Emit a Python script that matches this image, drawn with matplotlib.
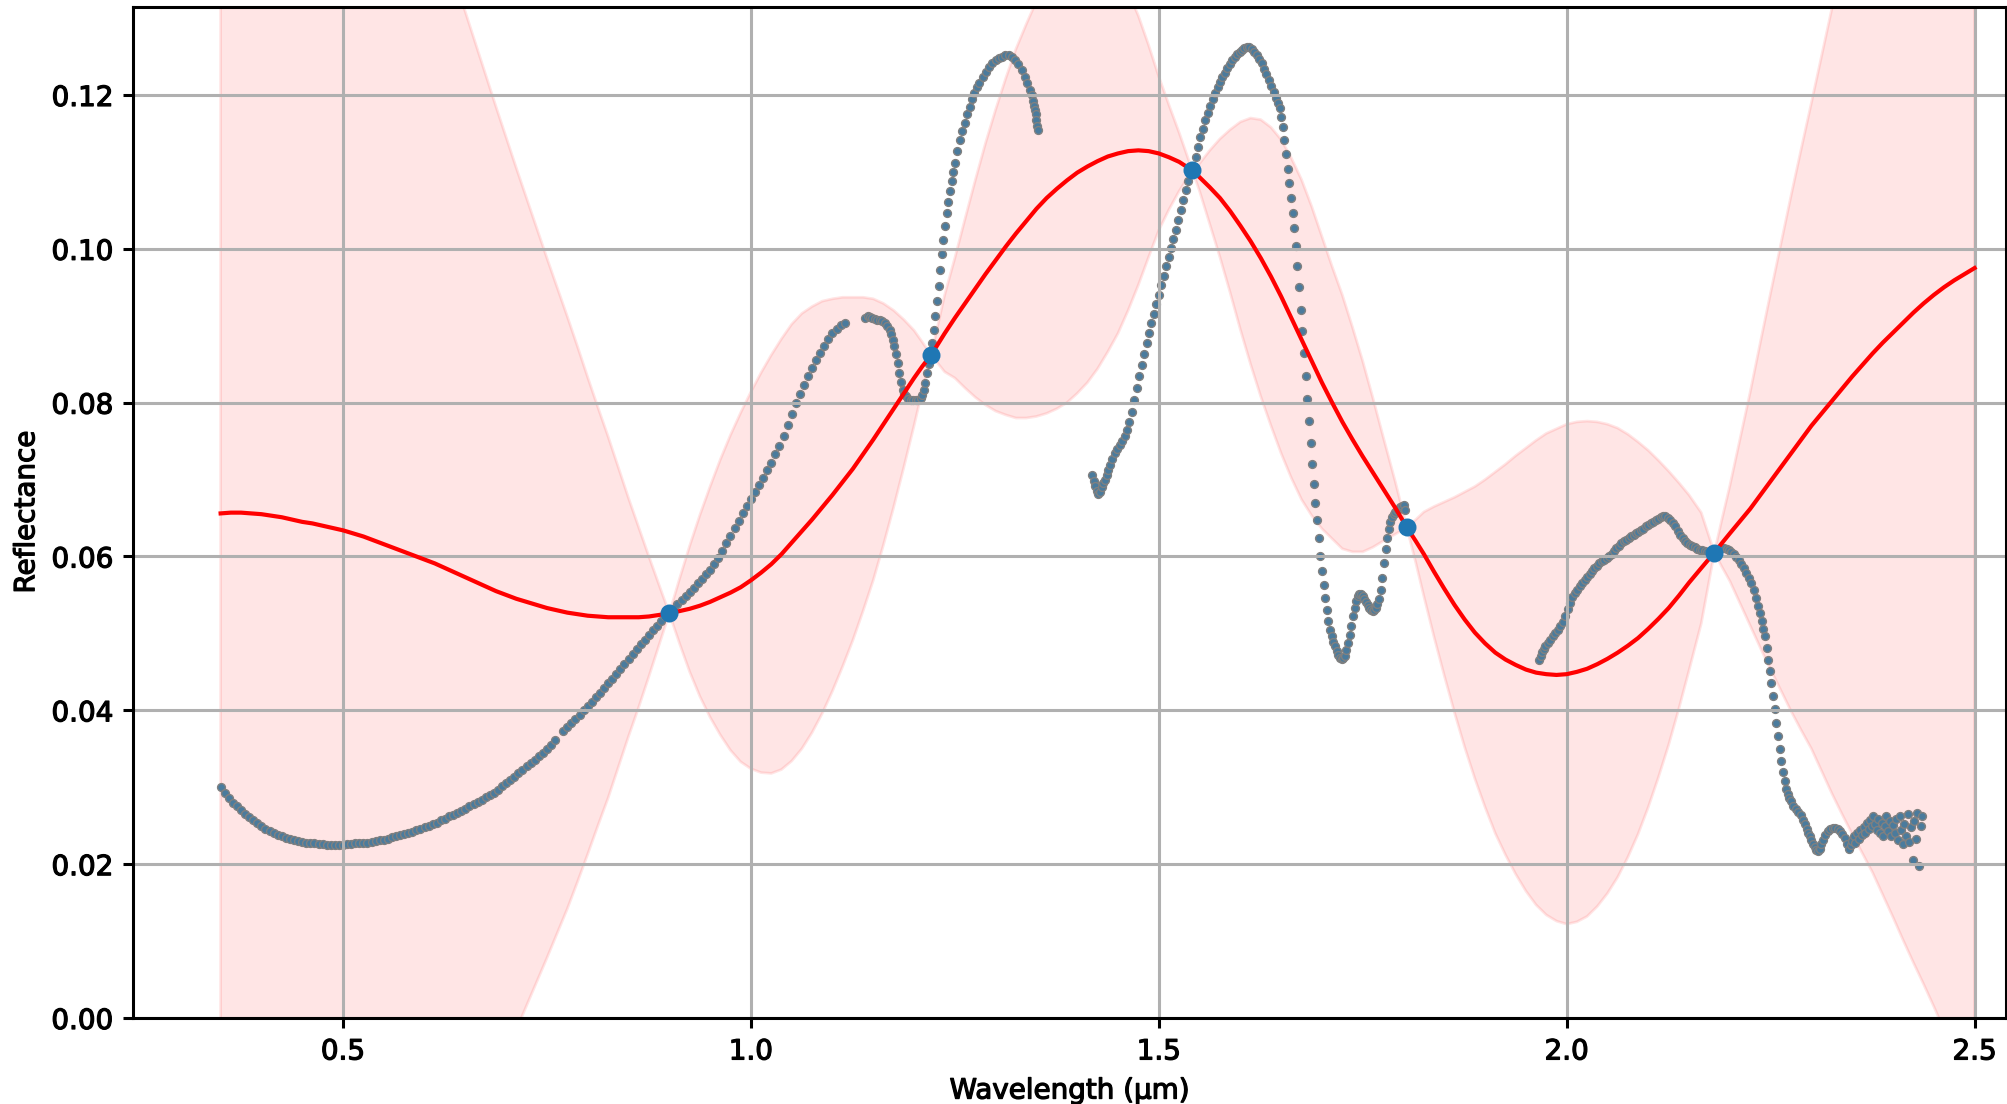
import numpy as np
import matplotlib.pyplot as plt
import matplotlib.patheffects as pe

# points used to train the GP (picked on the spectrum)
train_x = [0.900, 1.221, 1.541, 1.804, 2.181]
train_y = [0.0526, 0.0862, 0.1102, 0.0638, 0.0605]

# GP prediction: mean curve and half width of the band
fit_x = [0.3500, 0.3625, 0.3750, 0.3875, 0.4000, 0.4125, 0.4250, 0.4375, 0.4500, 0.4625,
         0.4750, 0.4875, 0.5000, 0.5125, 0.5250, 0.5375, 0.5500, 0.5625, 0.5750, 0.5875,
         0.6000, 0.6125, 0.6250, 0.6375, 0.6500, 0.6625, 0.6750, 0.6875, 0.7000, 0.7125,
         0.7250, 0.7375, 0.7500, 0.7625, 0.7750, 0.7875, 0.8000, 0.8125, 0.8250, 0.8375,
         0.8500, 0.8625, 0.8750, 0.8875, 0.9000, 0.9125, 0.9250, 0.9375, 0.9500, 0.9625,
         0.9750, 0.9875, 1.0000, 1.0125, 1.0250, 1.0375, 1.0500, 1.0625, 1.0750, 1.0875,
         1.1000, 1.1125, 1.1250, 1.1375, 1.1500, 1.1625, 1.1750, 1.1875, 1.2000, 1.2100,
         1.2210, 1.2375, 1.2500, 1.2625, 1.2750, 1.2875, 1.3000, 1.3125, 1.3250, 1.3375,
         1.3500, 1.3625, 1.3750, 1.3875, 1.4000, 1.4125, 1.4250, 1.4375, 1.4500, 1.4625,
         1.4750, 1.4875, 1.5000, 1.5125, 1.5250, 1.5410, 1.5500, 1.5625, 1.5750, 1.5875,
         1.6000, 1.6125, 1.6250, 1.6375, 1.6500, 1.6625, 1.6750, 1.6875, 1.7000, 1.7125,
         1.7250, 1.7375, 1.7500, 1.7625, 1.7750, 1.7900, 1.8040, 1.8150, 1.8250, 1.8375,
         1.8500, 1.8625, 1.8750, 1.8875, 1.9000, 1.9125, 1.9250, 1.9375, 1.9500, 1.9625,
         1.9750, 1.9875, 2.0000, 2.0125, 2.0250, 2.0375, 2.0500, 2.0625, 2.0750, 2.0875,
         2.1000, 2.1125, 2.1250, 2.1375, 2.1500, 2.1650, 2.1810, 2.1900, 2.2000, 2.2125,
         2.2250, 2.2375, 2.2500, 2.2625, 2.2750, 2.2875, 2.3000, 2.3125, 2.3250, 2.3375,
         2.3500, 2.3625, 2.3750, 2.3875, 2.4000, 2.4125, 2.4250, 2.4375, 2.4500, 2.4625,
         2.4750, 2.4875, 2.5000]
fit_mean = [0.0656, 0.0657, 0.0657, 0.0656, 0.0655, 0.0653, 0.0651, 0.0648, 0.0645, 0.0643,
            0.0640, 0.0637, 0.0634, 0.0630, 0.0626, 0.0621, 0.0616, 0.0611, 0.0606, 0.0601,
            0.0596, 0.0591, 0.0585, 0.0579, 0.0573, 0.0567, 0.0561, 0.0555, 0.0550, 0.0545,
            0.0541, 0.0537, 0.0533, 0.0530, 0.0527, 0.0525, 0.0523, 0.0522, 0.0521, 0.0521,
            0.0521, 0.0521, 0.0522, 0.0524, 0.0526, 0.0529, 0.0532, 0.0536, 0.0541, 0.0547,
            0.0553, 0.0560, 0.0569, 0.0579, 0.0590, 0.0603, 0.0618, 0.0633, 0.0648, 0.0664,
            0.0680, 0.0697, 0.0714, 0.0733, 0.0752, 0.0772, 0.0792, 0.0812, 0.0832, 0.0847,
            0.0862, 0.0890, 0.0910, 0.0929, 0.0948, 0.0967, 0.0985, 0.1003, 0.1020, 0.1036,
            0.1052, 0.1066, 0.1078, 0.1089, 0.1099, 0.1107, 0.1114, 0.1120, 0.1124, 0.1127,
            0.1128, 0.1127, 0.1124, 0.1119, 0.1113, 0.1102, 0.1093, 0.1080, 0.1066, 0.1049,
            0.1030, 0.1010, 0.0988, 0.0964, 0.0938, 0.0910, 0.0882, 0.0854, 0.0826, 0.0800,
            0.0775, 0.0752, 0.0730, 0.0709, 0.0688, 0.0663, 0.0638, 0.0620, 0.0603, 0.0580,
            0.0558, 0.0537, 0.0518, 0.0501, 0.0487, 0.0475, 0.0466, 0.0459, 0.0453, 0.0449,
            0.0447, 0.0446, 0.0447, 0.0450, 0.0454, 0.0460, 0.0467, 0.0475, 0.0484, 0.0494,
            0.0506, 0.0519, 0.0533, 0.0549, 0.0566, 0.0585, 0.0605, 0.0617, 0.0630, 0.0646,
            0.0662, 0.0680, 0.0698, 0.0716, 0.0734, 0.0752, 0.0770, 0.0786, 0.0802, 0.0818,
            0.0834, 0.0849, 0.0864, 0.0878, 0.0891, 0.0904, 0.0917, 0.0929, 0.0940, 0.0950,
            0.0959, 0.0967, 0.0975]
fit_band = [0.1570, 0.1535, 0.1500, 0.1465, 0.1430, 0.1395, 0.1360, 0.1325, 0.1290, 0.1255,
            0.1220, 0.1185, 0.1150, 0.1115, 0.1080, 0.1045, 0.1010, 0.0975, 0.0940, 0.0905,
            0.0870, 0.0835, 0.0800, 0.0768, 0.0735, 0.0700, 0.0665, 0.0630, 0.0595, 0.0560,
            0.0525, 0.0490, 0.0455, 0.0420, 0.0385, 0.0348, 0.0310, 0.0272, 0.0235, 0.0195,
            0.0155, 0.0117, 0.0078, 0.0039, 0.0000, 0.0042, 0.0082, 0.0118, 0.0150, 0.0179,
            0.0205, 0.0227, 0.0245, 0.0260, 0.0272, 0.0280, 0.0284, 0.0283, 0.0277, 0.0268,
            0.0255, 0.0240, 0.0223, 0.0204, 0.0183, 0.0157, 0.0128, 0.0096, 0.0062, 0.0032,
            0.0000, 0.0050, 0.0078, 0.0110, 0.0141, 0.0170, 0.0196, 0.0219, 0.0240, 0.0256,
            0.0270, 0.0280, 0.0286, 0.0289, 0.0287, 0.0281, 0.0270, 0.0254, 0.0234, 0.0207,
            0.0175, 0.0138, 0.0100, 0.0068, 0.0038, 0.0000, 0.0018, 0.0048, 0.0077, 0.0106,
            0.0135, 0.0160, 0.0180, 0.0194, 0.0204, 0.0208, 0.0208, 0.0201, 0.0190, 0.0177,
            0.0165, 0.0146, 0.0124, 0.0097, 0.0068, 0.0034, 0.0000, 0.0028, 0.0055, 0.0085,
            0.0113, 0.0140, 0.0166, 0.0190, 0.0213, 0.0235, 0.0254, 0.0272, 0.0288, 0.0302,
            0.0313, 0.0320, 0.0325, 0.0325, 0.0322, 0.0315, 0.0305, 0.0292, 0.0275, 0.0255,
            0.0232, 0.0206, 0.0178, 0.0147, 0.0114, 0.0072, 0.0000, 0.0030, 0.0062, 0.0107,
            0.0152, 0.0199, 0.0245, 0.0290, 0.0335, 0.0378, 0.0420, 0.0465, 0.0510, 0.0553,
            0.0595, 0.0635, 0.0675, 0.0718, 0.0760, 0.0803, 0.0845, 0.0885, 0.0925, 0.0965,
            0.1005, 0.1045, 0.1085]

# measured spectrum, one list per segment (bad bands removed)
seg1_x = [0.350, 0.355, 0.360, 0.365, 0.370, 0.375, 0.380, 0.385, 0.390, 0.395,
          0.400, 0.405, 0.410, 0.415, 0.420, 0.425, 0.430, 0.435, 0.440, 0.445,
          0.450, 0.455, 0.460, 0.465, 0.470, 0.475, 0.480, 0.485, 0.490, 0.495,
          0.500, 0.505, 0.510, 0.515, 0.520, 0.525, 0.530, 0.535, 0.540, 0.545,
          0.550, 0.555, 0.560, 0.565, 0.570, 0.575, 0.580, 0.585, 0.590, 0.595,
          0.600, 0.605, 0.610, 0.615, 0.620, 0.625, 0.630, 0.635, 0.640, 0.645,
          0.650, 0.655, 0.660, 0.665, 0.670, 0.675, 0.680, 0.685, 0.690, 0.695,
          0.700, 0.705, 0.710, 0.715, 0.720, 0.725, 0.730, 0.735, 0.740, 0.745,
          0.750, 0.755, 0.760,
          0.770, 0.775, 0.780, 0.785, 0.790, 0.795,
          0.800, 0.805, 0.810, 0.815, 0.820, 0.825, 0.830, 0.835, 0.840, 0.845,
          0.850, 0.855, 0.860, 0.865, 0.870, 0.875, 0.880, 0.885, 0.890, 0.895,
          0.900, 0.905, 0.910, 0.915, 0.920, 0.925, 0.930, 0.935, 0.940, 0.945,
          0.950, 0.955, 0.960, 0.965, 0.970, 0.975, 0.980, 0.985, 0.990, 0.995,
          1.000, 1.005, 1.010, 1.015, 1.020, 1.025, 1.030, 1.035, 1.040, 1.045,
          1.050, 1.055, 1.060, 1.065, 1.070, 1.075, 1.080, 1.085, 1.090, 1.095,
          1.100, 1.105, 1.110, 1.115]
seg1_y = [0.0300, 0.0293, 0.0286, 0.0280, 0.0275, 0.0270, 0.0265, 0.0261, 0.0257, 0.0253,
          0.0249, 0.0246, 0.0243, 0.0241, 0.0238, 0.0236, 0.0234, 0.0233, 0.0232, 0.0230,
          0.0229, 0.0228, 0.0227, 0.0227, 0.0226, 0.0226, 0.0225, 0.0225, 0.0225, 0.0225,
          0.0225, 0.0226, 0.0226, 0.0227, 0.0227, 0.0228, 0.0228, 0.0229, 0.0230, 0.0231,
          0.0232, 0.0233, 0.0235, 0.0237, 0.0238, 0.0239, 0.0241, 0.0242, 0.0244, 0.0246,
          0.0248, 0.0250, 0.0252, 0.0254, 0.0257, 0.0259, 0.0262, 0.0264, 0.0267, 0.0269,
          0.0272, 0.0275, 0.0278, 0.0281, 0.0284, 0.0287, 0.0290, 0.0293, 0.0297, 0.0301,
          0.0305, 0.0309, 0.0313, 0.0318, 0.0322, 0.0327, 0.0331, 0.0336, 0.0340, 0.0345,
          0.0350, 0.0355, 0.0361,
          0.0373, 0.0378, 0.0384, 0.0389, 0.0394, 0.0400,
          0.0405, 0.0411, 0.0417, 0.0423, 0.0429, 0.0435, 0.0441, 0.0447, 0.0454, 0.0460,
          0.0467, 0.0473, 0.0480, 0.0486, 0.0492, 0.0498, 0.0504, 0.0510, 0.0516, 0.0522,
          0.0527, 0.0532, 0.0538, 0.0543, 0.0549, 0.0554, 0.0559, 0.0565, 0.0571, 0.0577,
          0.0583, 0.0590, 0.0598, 0.0607, 0.0617, 0.0627, 0.0637, 0.0646, 0.0656, 0.0665,
          0.0675, 0.0684, 0.0693, 0.0702, 0.0712, 0.0722, 0.0733, 0.0744, 0.0757, 0.0771,
          0.0785, 0.0799, 0.0811, 0.0823, 0.0834, 0.0845, 0.0855, 0.0865, 0.0874, 0.0883,
          0.0890, 0.0896, 0.0901, 0.0904]

seg2_x = [1.140, 1.143, 1.146, 1.149, 1.152, 1.155, 1.158, 1.161, 1.164, 1.167,
          1.170, 1.172, 1.174, 1.176, 1.178, 1.180, 1.182, 1.184, 1.186, 1.188,
          1.190, 1.193, 1.196, 1.199, 1.202, 1.205, 1.208, 1.210, 1.212, 1.214,
          1.216, 1.218, 1.220, 1.222, 1.224, 1.226, 1.228, 1.230, 1.232, 1.234,
          1.236, 1.238, 1.240, 1.242, 1.244, 1.246, 1.248, 1.250, 1.253, 1.256,
          1.259, 1.262, 1.265, 1.268, 1.271, 1.274, 1.277, 1.280, 1.284, 1.288,
          1.292, 1.296, 1.300, 1.304, 1.308, 1.312, 1.316, 1.320, 1.324, 1.328,
          1.332, 1.336, 1.339, 1.342, 1.344, 1.346, 1.347, 1.348, 1.349, 1.350,
          1.351, 1.352]
seg2_y = [0.0910, 0.0912, 0.0911, 0.0910, 0.0909, 0.0908, 0.0907, 0.0906, 0.0904, 0.0900,
          0.0894, 0.0889, 0.0882, 0.0873, 0.0863, 0.0851, 0.0839, 0.0827, 0.0817, 0.0811,
          0.0808, 0.0805, 0.0804, 0.0803, 0.0803, 0.0804, 0.0806, 0.0810, 0.0816, 0.0826,
          0.0838, 0.0850, 0.0862, 0.0878, 0.0895, 0.0913, 0.0932, 0.0952, 0.0973, 0.0993,
          0.1012, 0.1030, 0.1046, 0.1061, 0.1075, 0.1088, 0.1100, 0.1112, 0.1127, 0.1141,
          0.1153, 0.1164, 0.1175, 0.1185, 0.1195, 0.1203, 0.1210, 0.1216, 0.1223, 0.1230,
          0.1236, 0.1241, 0.1245, 0.1248, 0.1250, 0.1252, 0.1252, 0.1250, 0.1246, 0.1240,
          0.1233, 0.1224, 0.1216, 0.1207, 0.1200, 0.1192, 0.1186, 0.1180, 0.1175, 0.1168,
          0.1160, 0.1155]

seg3_x = [1.418, 1.420, 1.422, 1.424, 1.426, 1.428, 1.430, 1.432, 1.434, 1.436,
          1.438, 1.440, 1.443, 1.446, 1.449, 1.452, 1.455, 1.458, 1.461, 1.464,
          1.467, 1.470, 1.473, 1.476, 1.479, 1.482, 1.485, 1.488, 1.491, 1.494,
          1.497, 1.500, 1.503, 1.506, 1.509, 1.512, 1.515, 1.518, 1.521, 1.524,
          1.527, 1.530, 1.533, 1.536, 1.539, 1.542, 1.545, 1.548, 1.551, 1.554,
          1.557, 1.560, 1.563, 1.566, 1.569, 1.572, 1.575, 1.578, 1.581, 1.584,
          1.587, 1.590, 1.593, 1.596, 1.599, 1.602, 1.605, 1.608, 1.611, 1.614,
          1.617, 1.620, 1.623, 1.626, 1.629, 1.632, 1.635, 1.638, 1.641, 1.644,
          1.646, 1.648, 1.650, 1.652, 1.654, 1.656, 1.658, 1.660, 1.662, 1.664,
          1.666, 1.668, 1.670, 1.672, 1.674, 1.676, 1.678, 1.680, 1.682, 1.684,
          1.686, 1.688, 1.690, 1.692, 1.694, 1.696, 1.698, 1.700, 1.702, 1.704,
          1.706, 1.708, 1.710, 1.712, 1.714, 1.716, 1.718, 1.720, 1.722, 1.724,
          1.726, 1.728, 1.730, 1.732, 1.734, 1.736, 1.738, 1.740, 1.742, 1.744,
          1.746, 1.748, 1.750, 1.752, 1.754, 1.756, 1.758, 1.760, 1.762, 1.764,
          1.766, 1.768, 1.770, 1.772, 1.774, 1.776, 1.778, 1.780, 1.782, 1.784,
          1.786, 1.788, 1.790, 1.792, 1.794, 1.796, 1.798, 1.800, 1.802]
seg3_y = [0.0706, 0.0698, 0.0691, 0.0685, 0.0681, 0.0684, 0.0690, 0.0695, 0.0700, 0.0706,
          0.0713, 0.0719, 0.0727, 0.0734, 0.0740, 0.0745, 0.0750, 0.0756, 0.0764, 0.0775,
          0.0788, 0.0803, 0.0819, 0.0834, 0.0849, 0.0863, 0.0877, 0.0890, 0.0903, 0.0915,
          0.0928, 0.0940, 0.0953, 0.0965, 0.0977, 0.0989, 0.1001, 0.1013, 0.1025, 0.1038,
          0.1051, 0.1064, 0.1077, 0.1088, 0.1099, 0.1108, 0.1120, 0.1133, 0.1145, 0.1156,
          0.1167, 0.1177, 0.1186, 0.1195, 0.1203, 0.1210, 0.1217, 0.1223, 0.1229, 0.1235,
          0.1240, 0.1245, 0.1249, 0.1253, 0.1256, 0.1259, 0.1261, 0.1262, 0.1262, 0.1260,
          0.1256, 0.1252, 0.1247, 0.1241, 0.1234, 0.1227, 0.1220, 0.1212, 0.1204, 0.1196,
          0.1190, 0.1183, 0.1172, 0.1158, 0.1141, 0.1123, 0.1104, 0.1085, 0.1066, 0.1046,
          0.1027, 0.1004, 0.0978, 0.0950, 0.0921, 0.0893, 0.0864, 0.0835, 0.0805, 0.0776,
          0.0748, 0.0720, 0.0694, 0.0670, 0.0647, 0.0624, 0.0601, 0.0581, 0.0563, 0.0546,
          0.0530, 0.0516, 0.0505, 0.0496, 0.0489, 0.0483, 0.0477, 0.0472, 0.0468, 0.0467,
          0.0468, 0.0471, 0.0478, 0.0488, 0.0498, 0.0510, 0.0522, 0.0533, 0.0542, 0.0548,
          0.0551, 0.0551, 0.0549, 0.0545, 0.0541, 0.0537, 0.0533, 0.0530, 0.0529, 0.0530,
          0.0533, 0.0538, 0.0545, 0.0557, 0.0572, 0.0591, 0.0610, 0.0624, 0.0636, 0.0645,
          0.0651, 0.0655, 0.0658, 0.0660, 0.0662, 0.0664, 0.0666, 0.0667, 0.0660]

seg4_x = [1.966, 1.968, 1.970, 1.972, 1.974, 1.977, 1.980, 1.983, 1.986, 1.989,
          1.992, 1.995, 1.998, 2.001, 2.004, 2.007, 2.010, 2.013, 2.016, 2.019,
          2.022, 2.025, 2.028, 2.031, 2.034, 2.037, 2.040, 2.043, 2.046, 2.049,
          2.052, 2.055, 2.058, 2.061, 2.064, 2.067, 2.070, 2.073, 2.076, 2.079,
          2.082, 2.085, 2.088, 2.091, 2.094, 2.097, 2.100, 2.103, 2.106, 2.109,
          2.112, 2.115, 2.118, 2.121, 2.124, 2.127, 2.130, 2.133, 2.136, 2.139,
          2.142, 2.145, 2.148, 2.151, 2.154, 2.157, 2.160, 2.163, 2.166, 2.169,
          2.172, 2.175, 2.178, 2.181, 2.184, 2.187, 2.190, 2.193, 2.196, 2.199,
          2.202, 2.205, 2.208, 2.211, 2.214, 2.217, 2.220, 2.223, 2.226, 2.229,
          2.232, 2.235, 2.237, 2.239, 2.241, 2.243, 2.245, 2.247, 2.249, 2.251,
          2.253, 2.255, 2.257, 2.259, 2.261, 2.263, 2.265, 2.267, 2.269, 2.271,
          2.273, 2.275, 2.278, 2.281, 2.284, 2.287, 2.290, 2.292, 2.294, 2.296,
          2.298, 2.300, 2.302, 2.304, 2.306, 2.308, 2.310, 2.312, 2.314, 2.317,
          2.320, 2.323, 2.326, 2.329, 2.332, 2.335, 2.338, 2.341, 2.344, 2.346,
          2.348, 2.350, 2.352, 2.354, 2.356, 2.358, 2.360, 2.362, 2.364, 2.366,
          2.368, 2.370, 2.372, 2.374, 2.376, 2.378, 2.380, 2.382, 2.384, 2.386,
          2.388, 2.390, 2.392, 2.394, 2.396, 2.398, 2.400, 2.402, 2.404, 2.406,
          2.408, 2.410, 2.412, 2.414, 2.416, 2.418, 2.420, 2.422, 2.424, 2.426,
          2.428, 2.430, 2.432, 2.434, 2.435]
seg4_y = [0.0465, 0.0470, 0.0476, 0.0480, 0.0483, 0.0488, 0.0492, 0.0496, 0.0500, 0.0505,
          0.0510, 0.0515, 0.0523, 0.0532, 0.0540, 0.0547, 0.0552, 0.0557, 0.0561, 0.0565,
          0.0569, 0.0573, 0.0577, 0.0581, 0.0585, 0.0588, 0.0591, 0.0594, 0.0596, 0.0598,
          0.0600, 0.0603, 0.0607, 0.0611, 0.0614, 0.0617, 0.0620, 0.0622, 0.0624, 0.0626,
          0.0628, 0.0630, 0.0632, 0.0634, 0.0636, 0.0639, 0.0641, 0.0643, 0.0645, 0.0647,
          0.0649, 0.0651, 0.0652, 0.0652, 0.0650, 0.0647, 0.0643, 0.0639, 0.0633, 0.0628,
          0.0624, 0.0620, 0.0617, 0.0615, 0.0613, 0.0612, 0.0610, 0.0609, 0.0608, 0.0607,
          0.0606, 0.0605, 0.0605, 0.0606, 0.0608, 0.0610, 0.0611, 0.0611, 0.0610, 0.0608,
          0.0606, 0.0603, 0.0599, 0.0595, 0.0590, 0.0585, 0.0579, 0.0572, 0.0565, 0.0556,
          0.0546, 0.0535, 0.0526, 0.0516, 0.0506, 0.0496, 0.0481, 0.0466, 0.0451, 0.0436,
          0.0419, 0.0402, 0.0384, 0.0367, 0.0350, 0.0334, 0.0320, 0.0308, 0.0298, 0.0291,
          0.0286, 0.0282, 0.0276, 0.0272, 0.0268, 0.0264, 0.0258, 0.0252, 0.0246, 0.0241,
          0.0236, 0.0231, 0.0226, 0.0222, 0.0219, 0.0217, 0.0220, 0.0226, 0.0232, 0.0238,
          0.0243, 0.0246, 0.0247, 0.0247, 0.0246, 0.0243, 0.0239, 0.0234, 0.0226, 0.0220,
          0.0225, 0.0230, 0.0236, 0.0228, 0.0240, 0.0233, 0.0244, 0.0238, 0.0248, 0.0241,
          0.0253, 0.0246, 0.0258, 0.0249, 0.0262, 0.0252, 0.0245, 0.0259, 0.0241, 0.0254,
          0.0237, 0.0250, 0.0262, 0.0243, 0.0256, 0.0236, 0.0251, 0.0240, 0.0259, 0.0231,
          0.0263, 0.0244, 0.0226, 0.0252, 0.0237, 0.0265, 0.0229, 0.0248, 0.0205, 0.0256,
          0.0233, 0.0267, 0.0198, 0.0250, 0.0262]

mean = np.array(fit_mean)
band = np.array(fit_band)

fig = plt.figure(figsize=(10.04, 5.52), dpi=200)
ax = fig.add_axes([0.0662, 0.0779, 0.9328, 0.9162])

ax.fill_between(fit_x, mean - band, mean + band, color='red', alpha=0.1)
for sx, sy in [(seg1_x, seg1_y), (seg2_x, seg2_y), (seg3_x, seg3_y), (seg4_x, seg4_y)]:
    ax.scatter(sx, sy, s=8, c='#4a7b9d', edgecolors='gray', linewidths=0.5)
ax.plot(fit_x, fit_mean, color='red', linewidth=1.5)
ax.scatter(train_x, train_y, s=30, color='C0', zorder=3)

ax.set_xlim(0.2425, 2.5385)
ax.set_ylim(0, 0.1315)
ax.set_xlabel('Wavelength (µm)')
ax.set_ylabel('Reflectance')
ax.grid(True, linewidth=1.1, color='#b0b0b0')
for s in ax.spines.values():
    s.set_linewidth(1.1)
ax.tick_params(width=1.1)

# the reference text looks slightly heavier than plain DejaVu
halo = [pe.withStroke(linewidth=0.45, foreground='black')]
for t in ax.get_xticklabels() + ax.get_yticklabels() + [ax.xaxis.label, ax.yaxis.label]:
    t.set_path_effects(halo)

fig.savefig('out.png', dpi=200)
